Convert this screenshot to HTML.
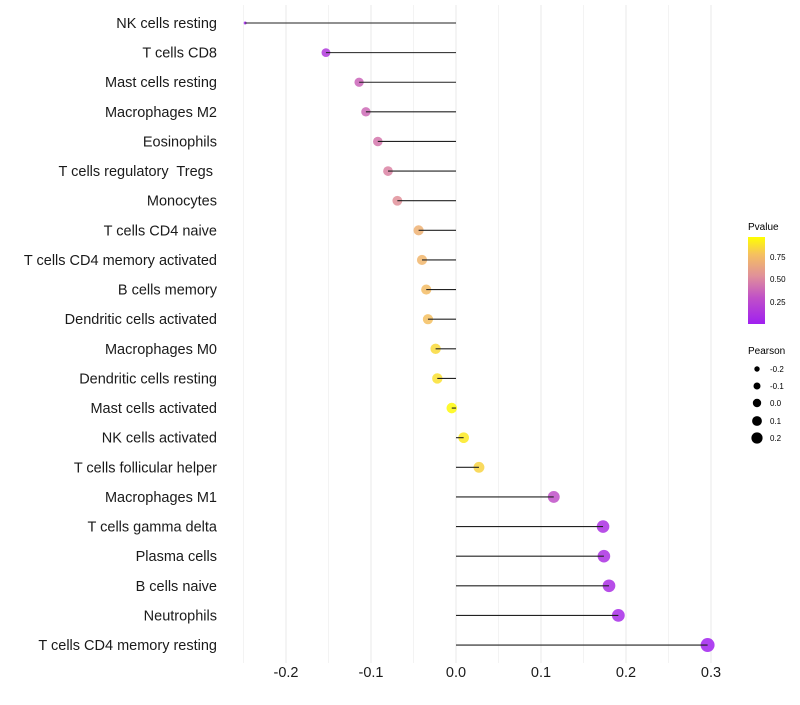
<!DOCTYPE html>
<html><head><meta charset="utf-8"><style>
body{margin:0;background:#fff;font-family:"Liberation Sans",sans-serif}
text{white-space:pre}
</style></head><body>
<svg id="chart" width="800" height="700" xmlns="http://www.w3.org/2000/svg" font-family="Liberation Sans, sans-serif">
<defs><linearGradient id="pg" x1="0" y1="1" x2="0" y2="0">
<stop offset="0" stop-color="#a020f0"/><stop offset="0.3" stop-color="#c050c8"/><stop offset="0.55" stop-color="#e0909a"/><stop offset="0.8" stop-color="#f5c060"/><stop offset="1" stop-color="#ffff00"/></linearGradient></defs>
<g id="grid"></g><g id="marks"></g><g id="labels"></g>
<g>
<text x="748" y="230" font-size="10">Pvalue</text>
<rect x="748" y="237" width="17" height="87" fill="url(#pg)"/>
<text x="770" y="260" font-size="8">0.75</text><text x="770" y="282" font-size="8">0.50</text><text x="770" y="305" font-size="8">0.25</text>
</g>
<g>
<text x="748" y="354" font-size="10">Pearson</text>
<circle cx="757" cy="369" r="2.7"/><text x="770" y="372" font-size="8">-0.2</text>
<circle cx="757" cy="386" r="3.5"/><text x="770" y="389" font-size="8">-0.1</text>
<circle cx="757" cy="403" r="4.2"/><text x="770" y="406" font-size="8">0.0</text>
<circle cx="757" cy="421" r="4.9"/><text x="770" y="424" font-size="8">0.1</text>
<circle cx="757" cy="438" r="5.6"/><text x="770" y="441" font-size="8">0.2</text>
</g>
</svg>
<script>
const categories=["NK cells resting","T cells CD8","Mast cells resting","Macrophages M2","Eosinophils","T cells regulatory  Tregs ","Monocytes","T cells CD4 naive","T cells CD4 memory activated","B cells memory","Dendritic cells activated","Macrophages M0","Dendritic cells resting","Mast cells activated","NK cells activated","T cells follicular helper","Macrophages M1","T cells gamma delta","Plasma cells","B cells naive","Neutrophils","T cells CD4 memory resting"];
const pearson=[-0.248,-0.153,-0.114,-0.106,-0.092,-0.080,-0.069,-0.044,-0.040,-0.035,-0.033,-0.024,-0.022,-0.005,0.009,0.027,0.115,0.173,0.174,0.180,0.191,0.296];
const pvalue=[0.01,0.15,0.38,0.4,0.45,0.5,0.55,0.72,0.75,0.78,0.8,0.88,0.9,0.98,0.93,0.86,0.3,0.1,0.1,0.09,0.07,0.01];
const xTicks=[-0.2,-0.1,0.0,0.1,0.2,0.3];
const xTickLabels=["-0.2","-0.1","0.0","0.1","0.2","0.3"];
const NS="http://www.w3.org/2000/svg";
const xs=v=>456+v*850;
const ys=i=>23+i*29.62;
const rs=v=>v>=-0.153?5.3+5.7*v:Math.max(1.5,4.43-(-0.153-v)*31);
function col(p){const st=[[0,[160,32,240]],[0.3,[192,80,200]],[0.55,[224,144,154]],[0.8,[245,192,96]],[1,[255,255,0]]];
for(let k=1;k<st.length;k++){if(p<=st[k][0]){const a=st[k-1],b=st[k],t=(p-a[0])/(b[0]-a[0]);return "rgb("+a[1].map((c,j)=>Math.round(c+(b[1][j]-c)*t)).join(",")+")";}}return "rgb(255,255,0)";}
function mk(t,a,p){const e=document.createElementNS(NS,t);for(const k in a)e.setAttribute(k,a[k]);p.appendChild(e);return e;}
const grid=document.getElementById('grid'),marks=document.getElementById('marks'),labels=document.getElementById('labels');
for(let v=-0.25;v<=0.301;v+=0.05){const l=mk('line',{x1:xs(v),x2:xs(v),y1:5,y2:663,stroke:'#ebebeb','stroke-width':Math.abs(Math.round(v*20))%2?0.6:1.1},grid);

}
categories.forEach((c,i)=>{
const t=mk('text',{x:217,y:ys(i)+5,'text-anchor':'end','font-size':14.5,fill:'#1a1a1a'},labels);t.textContent=c;


const p=mk('circle',{cx:xs(pearson[i]),cy:ys(i),r:rs(pearson[i]),fill:col(pvalue[i]),'fill-opacity':0.85},marks);


const l=mk('line',{x1:xs(0),x2:xs(pearson[i]),y1:ys(i),y2:ys(i),stroke:'#222','stroke-width':1.1},marks);


});
xTicks.forEach((v,i)=>{const t=mk('text',{x:xs(v),y:677,'text-anchor':'middle','font-size':14.5,fill:'#1a1a1a'},labels);t.textContent=xTickLabels[i];

});
</script>
</body></html>
